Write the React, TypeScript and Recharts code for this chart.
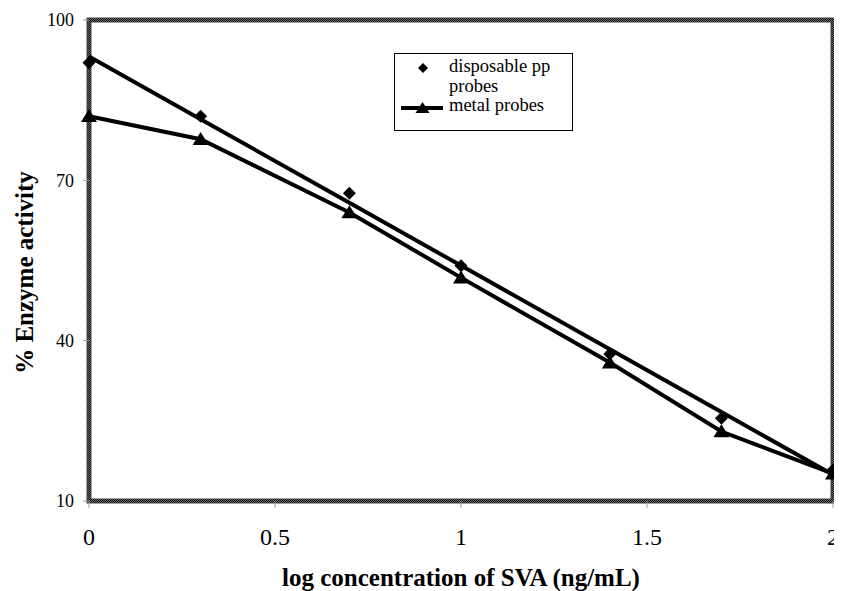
import React from 'react';
import { LineChart, Line, XAxis, YAxis, ReferenceArea, Legend, Label } from 'recharts';

const xValues = [0, 0.3, 0.7, 1, 1.4, 1.7, 2];
const disposablePP = [92, 82, 67.6, 54, 37.5, 25.5, 15.8];
const metalProbes = [82, 77.7, 64, 51.8, 35.9, 23, 15.1];
const xTicks = [0, 0.5, 1, 1.5, 2];
const yTicks = [10, 40, 70, 100];
const seriesNames = ['disposable pp probes', 'metal probes'];

// least-squares trendline of the disposable pp series (as drawn by the original spreadsheet)
const n = xValues.length;
const mx = xValues.reduce((a, b) => a + b, 0) / n;
const my = disposablePP.reduce((a, b) => a + b, 0) / n;
const sxy = xValues.reduce((s, x, i) => s + (x - mx) * (disposablePP[i] - my), 0);
const sxx = xValues.reduce((s, x) => s + (x - mx) * (x - mx), 0);
const slope = sxy / sxx;
const intercept = my - slope * mx;

const data = xValues.map((x, i) => ({
  x,
  disposable: disposablePP[i],
  metal: metalProbes[i],
  trend: intercept + slope * x,
}));

const SERIF = 'Liberation Serif';

const renderDiamond = (p: any) => {
  const { cx, cy, index } = p;
  if (cx == null || cy == null) return <g key={`d-${index}`} />;
  const r = 6.5;
  return (
    <path
      key={`d-${index}`}
      d={`M${cx},${cy - r} L${cx + r},${cy} L${cx},${cy + r} L${cx - r},${cy} Z`}
      fill="#000"
      stroke="none"
    />
  );
};

const renderTriangle = (p: any) => {
  const { cx, cy, index } = p;
  if (cx == null || cy == null) return <g key={`t-${index}`} />;
  const w = 8;
  const h = 13;
  return (
    <path
      key={`t-${index}`}
      d={`M${cx},${cy - h * 0.55} L${cx + w},${cy + h * 0.45} L${cx - w},${cy + h * 0.45} Z`}
      fill="#000"
      stroke="none"
    />
  );
};

const LegendBox = () => (
  <svg width={180} height={79} style={{ display: 'block' }}>
    <rect x={0.5} y={0.5} width={178} height={77} fill="#fff" stroke="#000" strokeWidth={1} />
    <path d="M29,10 L34,15 L29,20 L24,15 Z" fill="#000" />
    <text x={55} y={19} fontSize={18.5} fontFamily={SERIF} fill="#000">disposable pp</text>
    <text x={55} y={39} fontSize={18.5} fontFamily={SERIF} fill="#000">probes</text>
    <line x1={7} y1={55} x2={49} y2={55} stroke="#000" strokeWidth={4} />
    <path d="M28.5,49 L35.5,60 L21.5,60 Z" fill="#000" />
    <text x={55} y={58} fontSize={18.5} fontFamily={SERIF} fill="#000">{seriesNames[1]}</text>
  </svg>
);

const YTitle = (props: any) => {
  const vb = props.viewBox || { x: 0, y: 12, width: 81, height: 481 };
  const cx = vb.x + 16;
  const cy = vb.y + vb.height / 2 + 12;
  return (
    <text
      x={cx}
      y={cy}
      transform={`rotate(-90 ${cx} ${cy})`}
      textAnchor="middle"
      dominantBaseline="central"
      fontSize={25}
      fontWeight="bold"
      fontFamily={SERIF}
      fill="#000"
    >
      % Enzyme activity
    </text>
  );
};

const XTitle = (props: any) => {
  const vb = props.viewBox || { x: 81, y: 493, width: 744, height: 90 };
  const cx = vb.x + vb.width / 2;
  const cy = vb.y + 85;
  return (
    <text x={cx} y={cy} textAnchor="middle" fontSize={25} fontWeight="bold" fontFamily={SERIF} fill="#000">
      log concentration of SVA (ng/mL)
    </text>
  );
};

export default function App() {
  return (
    <div style={{ width: 834, height: 583, fontFamily: SERIF }}>
      <LineChart
        width={834}
        height={583}
        data={data}
        margin={{ top: 12, right: 9, left: 0, bottom: 0 }}
        style={{ fontFamily: SERIF, overflow: 'visible' }}
      >
        <defs>
          <pattern id="hatch" width={2} height={2} patternUnits="userSpaceOnUse">
            <rect width={2} height={2} fill="#6a6a6a" />
            <rect width={1} height={1} fill="#151515" />
            <rect x={1} y={1} width={1} height={1} fill="#151515" />
          </pattern>
        </defs>
        <XAxis
          dataKey="x"
          type="number"
          domain={[0, 2]}
          ticks={xTicks}
          axisLine={false}
          tickLine={{ stroke: '#999', strokeWidth: 1 }}
          tickSize={7}
          tickMargin={20}
          height={90}
          tick={{ fontSize: 24, fill: '#000', fontFamily: SERIF }}
        >
          <Label content={XTitle} />
        </XAxis>
        <YAxis
          type="number"
          domain={[10, 100]}
          ticks={yTicks}
          axisLine={false}
          tickLine={{ stroke: '#999', strokeWidth: 1 }}
          tickSize={6}
          tickMargin={9}
          width={81}
          tick={{ fontSize: 18, fill: '#000', fontFamily: SERIF }}
        >
          <Label content={YTitle} />
        </YAxis>
        <ReferenceArea
          x1={0}
          x2={2}
          y1={10}
          y2={100}
          fill="none"
          fillOpacity={0}
          stroke="url(#hatch)"
          strokeOpacity={1}
          strokeWidth={5}
          ifOverflow="visible"
        />
        <Line
          dataKey="trend"
          stroke="#000"
          strokeWidth={4}
          dot={false}
          activeDot={false}
          isAnimationActive={false}
          legendType="none"
        />
        <Line
          dataKey="disposable"
          name={seriesNames[0]}
          stroke="none"
          dot={renderDiamond}
          activeDot={false}
          isAnimationActive={false}
        />
        <Line
          dataKey="metal"
          name={seriesNames[1]}
          stroke="#000"
          strokeWidth={4}
          dot={renderTriangle}
          activeDot={false}
          isAnimationActive={false}
        />
        <Legend
          layout="vertical"
          align="center"
          verticalAlign="middle"
          wrapperStyle={{ left: 386, top: 45, width: 180, height: 79 }}
          content={LegendBox}
        />
      </LineChart>
    </div>
  );
}
